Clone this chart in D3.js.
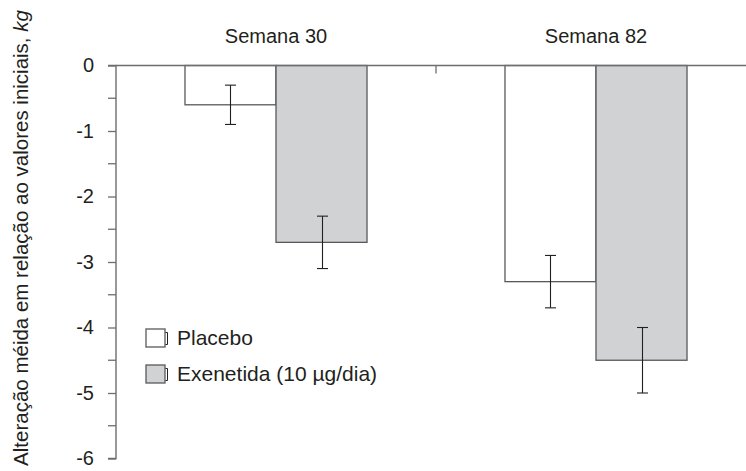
<!DOCTYPE html>
<html>
<head>
<meta charset="utf-8">
<script src="https://cdn.jsdelivr.net/npm/d3@7"></script>
<style>
  html, body { margin: 0; padding: 0; background: #fff; }
  svg { display: block; font-family: "Liberation Sans", Arial, sans-serif; }
</style>
</head>
<body>
<svg id="chart" width="746" height="471"></svg>
<script>
// Mean change from baseline (kg) by week and treatment
const weeks = ["Semana 30", "Semana 82"];
const series = ["Placebo", "Exenetida (10 µg/dia)"];
const placeboMean = [-0.6, -3.3];
const placeboErr = [0.3, 0.4];
const exenatideMean = [-2.7, -4.5];
const exenatideErr = [0.4, 0.5];
const yTicks = [0, -1, -2, -3, -4, -5, -6];
const yMinorTicks = [-0.5, -1.5, -2.5, -3.5, -4.5, -5.5];

const fills = ["#ffffff", "#d1d2d4"];
const ink = "#231f20";
const lineGray = "#6d6e70";
const fontPx = "20px";

const svg = d3.select("#chart");
const x0 = 116, x1 = 756, yTop = 65.5, yBot = 458.5;

const x = d3.scaleBand().domain(weeks).range([x0, x1]);
const xInner = d3.scaleBand().domain(series).range([0, x.bandwidth()]).paddingInner(0).paddingOuter(0.758);
const y = d3.scaleLinear().domain([0, -6]).range([yTop, yBot]);

const rows = [];
weeks.forEach((w, i) => {
  rows.push({ week: w, s: series[0], v: placeboMean[i], e: placeboErr[i], k: 0 });
  rows.push({ week: w, s: series[1], v: exenatideMean[i], e: exenatideErr[i], k: 1 });
});

// Bars hanging from zero
svg.append("g").selectAll("rect").data(rows).join("rect")
  .attr("x", d => x(d.week) + xInner(d.s))
  .attr("y", y(0))
  .attr("width", xInner.bandwidth())
  .attr("height", d => y(d.v) - y(0))
  .attr("fill", d => fills[d.k])
  .attr("stroke", "#58595b")
  .attr("stroke-width", 1.3);

// Error bars
const capW = 5.5;
const eb = svg.append("g").attr("stroke", ink).attr("stroke-width", 1.1);
rows.forEach(d => {
  const cx = Math.round(x(d.week) + xInner(d.s) + xInner.bandwidth() / 2) + 0.5;
  const yHi = y(d.v + d.e), yLo = y(d.v - d.e);
  eb.append("line").attr("x1", cx).attr("x2", cx).attr("y1", yHi).attr("y2", yLo);
  eb.append("line").attr("x1", cx - capW).attr("x2", cx + capW).attr("y1", yHi).attr("y2", yHi);
  eb.append("line").attr("x1", cx - capW).attr("x2", cx + capW).attr("y1", yLo).attr("y2", yLo);
});

// Zero baseline across the plot
svg.append("line")
  .attr("x1", x0).attr("x2", 746).attr("y1", y(0)).attr("y2", y(0))
  .attr("stroke", lineGray).attr("stroke-width", 1.4);

// Separator tick between the two weeks
svg.append("line")
  .attr("x1", x(weeks[1])).attr("x2", x(weeks[1]))
  .attr("y1", y(0)).attr("y2", y(0) + 8)
  .attr("stroke", lineGray).attr("stroke-width", 1.3);

// Y axis
const yAxis = d3.axisLeft(y).tickValues(yTicks).tickSize(8).tickPadding(14)
  .tickFormat(d => d === 0 ? "0" : "-" + Math.abs(d));
const ag = svg.append("g").attr("transform", `translate(${x0},0)`).call(yAxis);
ag.attr("font-size", null).attr("font-family", null);
ag.select(".domain").attr("d", `M-8,${y(0)}H0V${yBot}H-8`).attr("stroke", lineGray).attr("stroke-width", 1.4);
ag.selectAll(".tick line").attr("stroke", lineGray).attr("stroke-width", 1.3);
ag.selectAll(".tick text").attr("fill", ink).style("font-size", fontPx);
const minor = svg.append("g").attr("transform", `translate(${x0},0)`);
minor.selectAll("line").data(yMinorTicks).join("line")
  .attr("x1", -8).attr("x2", 0).attr("y1", d => y(d)).attr("y2", d => y(d))
  .attr("stroke", lineGray).attr("stroke-width", 1.3);

// Week headers
svg.append("g").selectAll("text").data(weeks).join("text")
  .attr("x", d => x(d) + x.bandwidth() / 2)
  .attr("y", 43)
  .attr("text-anchor", "middle")
  .attr("fill", ink)
  .style("font-size", fontPx)
  .text(d => d);

// Y axis title
const yt = svg.append("text")
  .attr("transform", "translate(28,238) rotate(-90)")
  .attr("text-anchor", "middle")
  .attr("fill", ink)
  .style("font-size", "20.5px");
yt.append("tspan").text("Alteração méida em relação ao valores iniciais, ");
yt.append("tspan").style("font-style", "italic").text("kg");

// Legend
const lg = svg.append("g").attr("transform", "translate(146,329)");
series.forEach((s, i) => {
  const g = lg.append("g").attr("transform", `translate(0,${i * 36})`);
  g.append("rect").attr("x", 0).attr("y", 0).attr("width", 19).attr("height", 18)
    .attr("fill", fills[i]).attr("stroke", "#58595b").attr("stroke-width", 1.3);
  g.append("path").attr("d", "M19.5,3.5H21.5V15.5H19.5")
    .attr("fill", "none").attr("stroke", ink).attr("stroke-width", 1);
  g.append("text").attr("x", 31).attr("y", 16).attr("fill", ink)
    .style("font-size", "21px").text(s);
});
</script>
</body>
</html>
